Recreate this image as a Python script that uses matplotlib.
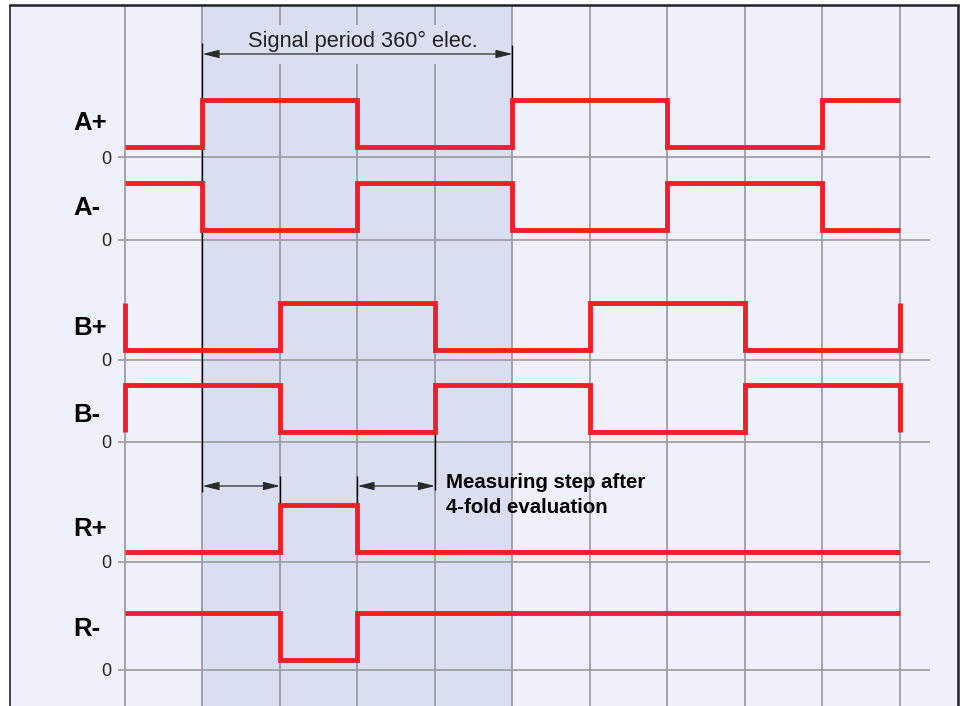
import matplotlib
matplotlib.use("Agg")
import matplotlib.pyplot as plt
from matplotlib.patches import Rectangle, FancyArrowPatch

# ---------------- data ----------------
channels = ["A+", "A-", "B+", "B-", "R+", "R-"]
# logic level of each signal in each quarter of a signal period (10 quarters shown)
state_Ap = [0, 1, 1, 0, 0, 1, 1, 0, 0, 1]
state_Am = [1, 0, 0, 1, 1, 0, 0, 1, 1, 0]
state_Bp = [0, 0, 1, 1, 0, 0, 1, 1, 0, 0]
state_Bm = [1, 1, 0, 0, 1, 1, 0, 0, 1, 1]
state_Rp = [0, 0, 1, 0, 0, 0, 0, 0, 0, 0]
state_Rm = [1, 1, 0, 1, 1, 1, 1, 1, 1, 1]
states = [state_Ap, state_Am, state_Bp, state_Bm, state_Rp, state_Rm]
# edge stubs at the start / end of the B traces (None = no stub)
start_stub = [None, None, 1, 0, None, None]
end_stub = [None, None, 1, 0, None, None]
zero_label = "0"
period_label = "Signal period 360° elec."
step_label = ["Measuring step after", "4-fold evaluation"]

# ---------------- layout ----------------
W, H = 964, 706
X0, DX = 125.0, 77.5          # pixel of quarter 0 and width of a quarter


def u(px):
    return (px - X0) / DX


baselines = [157, 240, 360, 442, 562, 670]
label_y = [123, 208, 328, 415, 529, 629]
LOW_OFF, AMP = 10, 47
RED = "#ee1f27"
GRID = "#8f9096"

fig = plt.figure(figsize=(W / 100, H / 100), dpi=100, facecolor="white")
ax = fig.add_axes([0, 0, 1, 1])
ax.set_xlim(u(0), u(W))
ax.set_ylim(H, 0)
ax.axis("off")

# backgrounds
ax.add_patch(Rectangle((u(10), 5), u(958) - u(10), H, facecolor="#eef1fa",
                       edgecolor="none", zorder=0))
ax.add_patch(Rectangle((1, 5), 4, H, facecolor="#d9dff0", edgecolor="none", zorder=0.5))

# frame
ax.plot([u(10), u(10)], [5, H], color="#222222", lw=1.2, zorder=6, solid_capstyle="butt")
ax.plot([u(10), u(958)], [5, 5], color="#222222", lw=1.8, zorder=6, solid_capstyle="projecting")
ax.plot([u(958), u(958)], [5, H], color="#222222", lw=1.8, zorder=6, solid_capstyle="butt")

# vertical grid
for k in range(11):
    if k in (2, 3, 4):
        ax.vlines(k, 5, 25, color=GRID, lw=1.1, zorder=1)
        ax.vlines(k, 64, H, color=GRID, lw=1.1, zorder=1)
    else:
        ax.vlines(k, 5, H, color=GRID, lw=1.1, zorder=1)

# baselines and zero labels
for b in baselines:
    ax.hlines(b, u(118), u(930), color="#9a9ba0", lw=1.2, zorder=1)
    ax.text(u(111), b + 2, zero_label, ha="right", va="center", fontsize=13,
            family="Liberation Sans", color="#222222", zorder=5)

# channel labels
for name, ly in zip(channels, label_y):
    ax.text(u(73), ly, name, ha="left", va="center", fontsize=18.5,
            family="Liberation Sans", fontweight="bold", color="black", zorder=5)

# black dimension lines
ax.vlines(1, 43, 492, color="black", lw=1.0, zorder=2)
ax.vlines(5, 45, 100, color="black", lw=1.0, zorder=2)
ax.vlines(2, 476, 505, color="black", lw=1.0, zorder=2)
ax.vlines(3, 476, 505, color="black", lw=1.0, zorder=2)
ax.vlines(4, 432, 490, color="black", lw=1.0, zorder=2)


def arrow(x0, x1, y):
    a = FancyArrowPatch((x0, y), (x1, y), arrowstyle="<|-|>,head_length=1.0,head_width=0.25",
                        mutation_scale=10, shrinkA=0, shrinkB=0, color="#2a2a2a",
                        lw=0.9, zorder=4)
    ax.add_patch(a)


arrow(1, 5, 54)
arrow(1, 2, 486)
arrow(3, 4, 486)

ax.text(u(363), 41, period_label, ha="center", va="center", fontsize=15.7,
        family="Liberation Sans", color="#222222", zorder=5)
ax.text(u(446), 488, step_label[0], ha="left", va="baseline", fontsize=14.7,
        family="Liberation Sans", fontweight="bold", color="black", zorder=5)
ax.text(u(446), 513, step_label[1], ha="left", va="baseline", fontsize=14.7,
        family="Liberation Sans", fontweight="bold", color="black", zorder=5)

# signals
for st, b, s0, s1 in zip(states, baselines, start_stub, end_stub):
    xs, vs = [], []
    if s0 is not None:
        xs.append(0); vs.append(s0)
    for i, v in enumerate(st):
        xs += [i, i + 1]
        vs += [v, v]
    if s1 is not None:
        xs.append(len(st)); vs.append(s1)
    ys = [b - (LOW_OFF + AMP * v) for v in vs]
    ax.plot(xs, ys, color=RED, lw=3.5, solid_joinstyle="miter",
            solid_capstyle="butt", zorder=3)

fig.savefig("out.png", dpi=100, facecolor="white")
